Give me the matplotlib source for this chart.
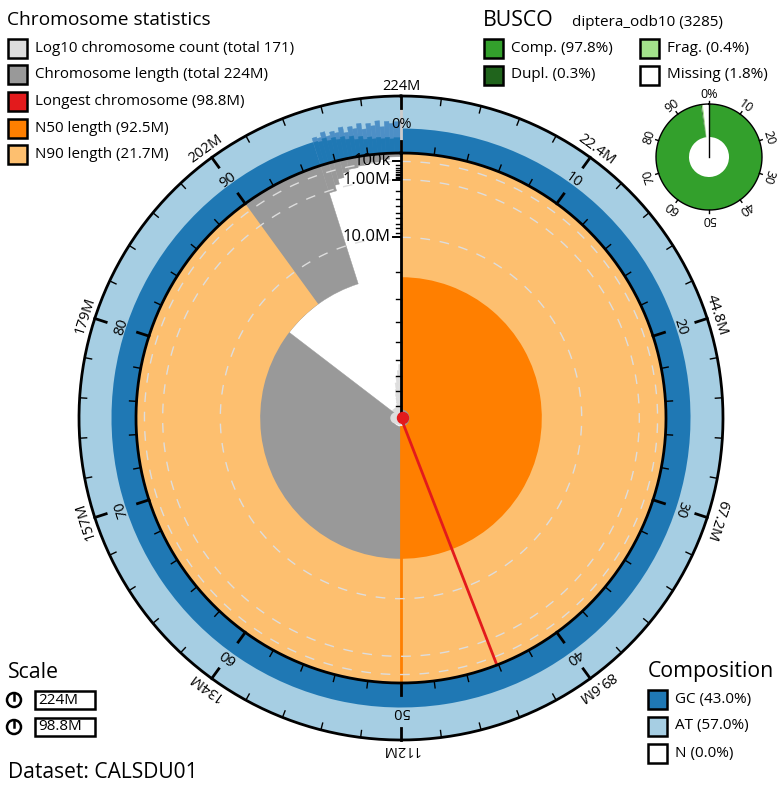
import numpy as np
import matplotlib
matplotlib.use("Agg")
import matplotlib.pyplot as plt
from matplotlib.patches import Rectangle, Circle

plt.rcParams['font.family'] = ['Open Sans', 'DejaVu Sans']

# ---------------- data ----------------
total_len_mb = 224.0
chrom_count = 171
longest_mb = 98.8
n50_mb = 92.5
n90_mb = 21.7
# largest chromosomes (Mb), then tail profile
big_chrom_mb = [98.8, 92.5, 21.7]
tail_end_pct = [95.6, 95.9, 96.3, 96.7, 97.3, 98.0, 98.7, 99.3, 100.0]
tail_len_mb = [1.17, 0.75, 0.45, 0.25, 0.17, 0.13, 0.09, 0.05, 0.02]
tail_count_end = [4, 5, 7, 10, 16, 30, 55, 95, 171]
# GC proportion: main chromosomes, then tail bins (solid mean and upper range)
gc_main = 0.43
gc_tail_pct = [95.1, 95.35, 95.6, 95.85, 96.1, 96.35, 96.6, 96.85, 97.1, 97.35, 97.6,
               97.85, 98.1, 98.35, 98.6, 98.85, 99.1, 99.35, 99.6, 100.0]
gc_tail_lo = [0.42, 0.40, 0.44, 0.38, 0.41, 0.36, 0.39, 0.33, 0.37, 0.30, 0.34, 0.28,
              0.31, 0.27, 0.29, 0.26, 0.28, 0.25, 0.27]
gc_tail_hi = [0.50, 0.47, 0.55, 0.46, 0.52, 0.48, 0.56, 0.45, 0.54, 0.49, 0.57, 0.46,
              0.55, 0.50, 0.58, 0.47, 0.56, 0.52, 0.55]

busco_labels = ['Comp. (97.8%)', 'Dupl. (0.3%)', 'Frag. (0.4%)', 'Missing (1.8%)']
busco_pct = [97.5, 0.3, 0.4, 1.8]
busco_colors = ['#33a02c', '#20641c', '#a3e28b', '#ffffff']

outer_tick_labels = ['224M', '22.4M', '44.8M', '67.2M', '89.6M', '112M', '134M', '157M', '179M', '202M']
pct_tick_labels = ['0%', '10', '20', '30', '40', '50', '60', '70', '80', '90']
len_axis_ticks = [0.1, 1.0, 10.0]
len_axis_labels = ['100k', '1.00M', '10.0M']

# ---------------- geometry ----------------
W, H = 784, 790
cx, cy = 401, 418
R_in, R_out = 265, 322
FS_T, FS_L = 15.3, 11.0

def r_len(L):
    return R_in * (1 - np.sqrt(np.asarray(L) / longest_mb))

def th(p):
    return 2 * np.pi * np.asarray(p) / 100.0

fig = plt.figure(figsize=(W / 100, H / 100), dpi=100)
ax = fig.add_axes([(cx - R_out - 30) / W, (H - cy - R_out - 30) / H,
                   (2 * R_out + 60) / W, (2 * R_out + 60) / H], projection='polar')
ax.set_theta_zero_location('N')
ax.set_theta_direction(-1)
ax.set_ylim(0, R_out + 30)
ax.axis('off')

# segments (start pct, end pct, length)
cum = np.cumsum(big_chrom_mb) / total_len_mb * 100
seg_start = [0.0] + list(cum[:-1]) + [cum[-1]] + tail_end_pct[:-1]
seg_end = list(cum) + tail_end_pct
seg_len = big_chrom_mb + tail_len_mb
seg_count = [1, 2, 3] + tail_count_end

# count spiral (light grey)
for s, e, c in zip(seg_start, seg_end, seg_count):
    rc = 24 * np.log10(c)
    if rc > 0:
        ax.bar(th(s), rc, width=th(e - s), bottom=0, align='edge', color='#dddddd',
               ec='#dddddd', lw=0.3, zorder=1)

# chromosome length bars (grey, from rim inward)
for s, e, L in zip(seg_start, seg_end, seg_len):
    b = r_len(L)
    ax.bar(th(s), R_in - b, width=th(e - s), bottom=b, align='edge', color='#999999',
           ec='#999999', lw=0.3, zorder=2)

# N50 and N90 sectors
ax.bar(0, R_in - r_len(n50_mb), width=th(50), bottom=r_len(n50_mb), align='edge', color='#ff7f00', lw=0, zorder=3)
ax.bar(0, R_in - r_len(n90_mb), width=th(90), bottom=r_len(n90_mb), align='edge', color='#fdbf6f', lw=0, zorder=4)
ax.plot([th(50), th(50)], [r_len(n50_mb), R_in], color='#ff7f00', lw=2, zorder=5)

# dashed scale circles
tt = np.linspace(0, 2 * np.pi, 600)
for L in len_axis_ticks:
    ax.plot(tt, np.full_like(tt, r_len(L)), color='#dddddd', lw=1, ls=(0, (7, 7)), zorder=5)

# longest chromosome line
ax.plot([th(longest_mb / total_len_mb * 100)] * 2, [r_len(longest_mb), R_in], color='#e31a1c', lw=2, zorder=6)

# composition band
band = R_out - R_in
ax.bar(0, band, width=2 * np.pi, bottom=R_in, align='edge', color='#a6cee3', lw=0, zorder=3)
ax.bar(0, gc_main * band, width=th(gc_tail_pct[0]), bottom=R_in, align='edge', color='#1f78b4', lw=0, zorder=3)
for s, e, lo, hi in zip(gc_tail_pct[:-1], gc_tail_pct[1:], gc_tail_lo, gc_tail_hi):
    ax.bar(th(s), hi * band, width=th(e - s), bottom=R_in, align='edge', color='#4d8fc6',
           ec='#4d8fc6', lw=0.3, zorder=3)
for s, e, lo in zip(gc_tail_pct[:-1], gc_tail_pct[1:], gc_tail_lo):
    ax.bar(th(s), lo * band, width=th(e - s), bottom=R_in, align='edge', color='#1f78b4',
           ec='#1f78b4', lw=0.3, zorder=3)

# circles
ax.plot(tt, np.full_like(tt, R_in), color='black', lw=2, zorder=7)
ax.plot(tt, np.full_like(tt, R_out), color='black', lw=2, zorder=7)
ax.plot([0, 0], [R_in, R_out], color='#cccccc', lw=2, zorder=6)

# ticks
for i in range(50):
    a = th(i * 2)
    major = i % 5 == 0
    ax.plot([a, a], [R_in, R_in + (12 if major else 7)], color='black', lw=2 if major else 1, zorder=8)
    ax.plot([a, a], [R_out, R_out - (12 if major else 7)], color='black', lw=2 if major else 1, zorder=8)
for i in range(10):
    a = th(i * 10)
    d = np.degrees(a)
    ax.text(a, R_out + 10, outer_tick_labels[i], rotation=-d, rotation_mode='anchor',
            ha='center', va='center', fontsize=10.5, zorder=9)
    ax.text(a, R_in + 29, pct_tick_labels[i], rotation=-d, rotation_mode='anchor',
            ha='center', va='center', fontsize=10.5, zorder=9)

# overlay axes for pixel-space items
axp = fig.add_axes([0, 0, 1, 1])
axp.set_xlim(0, W)
axp.set_ylim(H, 0)
axp.axis('off')
axp.patch.set_alpha(0)

# vertical length axis
axp.plot([cx, cx], [cy, cy - R_in], color='black', lw=2, zorder=10)
for dec in [0.1, 1.0, 10.0]:
    for m in range(1, 10):
        L = dec * m
        if L > longest_mb:
            continue
        y = cy - r_len(L)
        axp.plot([cx - (8 if m == 1 else 5), cx], [y, y], color='black', lw=1.4 if m == 1 else 1, zorder=10)
for L, lab in zip(len_axis_ticks, len_axis_labels):
    axp.text(cx - 10, cy - r_len(L), lab, ha='right', va='center', fontsize=12, zorder=10)
axp.add_patch(Circle((cx - 5, cy), 5, color='#dddddd', zorder=10))
axp.add_patch(Circle((cx + 2, cy), 5.5, color='#e31a1c', zorder=11))

# legends
def box(x, y, c):
    axp.add_patch(Rectangle((x, y - 9.5), 19, 19, facecolor=c, edgecolor='black', lw=1.8, zorder=12))

axp.text(7, 20, 'Chromosome statistics', fontsize=13.8, ha='left', va='center')
cs_labels = ['Log10 chromosome count (total 171)', 'Chromosome length (total 224M)',
             'Longest chromosome (98.8M)', 'N50 length (92.5M)', 'N90 length (21.7M)']
cs_colors = ['#dddddd', '#999999', '#e31a1c', '#ff7f00', '#fdbf6f']
for i, (lab, c) in enumerate(zip(cs_labels, cs_colors)):
    y = 48 + i * 26.7
    box(8, y, c)
    axp.text(35, y, lab, fontsize=10.9, ha='left', va='center')

axp.text(483, 20, 'BUSCO', fontsize=FS_T, ha='left', va='center')
axp.text(572, 22, 'diptera_odb10 (3285)', fontsize=11, ha='left', va='center')
bx = [484, 484, 640, 640]
byy = [48, 75, 48, 75]
for lab, c, x, y in zip(busco_labels, busco_colors, bx, byy):
    box(x, y, c)
    axp.text(x + 27, y, lab, fontsize=FS_L, ha='left', va='center')

axp.text(648, 672, 'Composition', fontsize=FS_T, ha='left', va='center')
comp_labels = ['GC (43.0%)', 'AT (57.0%)', 'N (0.0%)']
comp_colors = ['#1f78b4', '#a6cee3', '#ffffff']
for i, (lab, c) in enumerate(zip(comp_labels, comp_colors)):
    y = 699 + i * 27
    box(648, y, c)
    axp.text(675, y, lab, fontsize=FS_L, ha='left', va='center')

axp.text(8, 672, 'Scale', fontsize=FS_T, ha='left', va='center')
for y, lab in zip([700, 727], ['224M', '98.8M']):
    axp.add_patch(Circle((14, y), 7, fill=False, edgecolor='black', lw=1.8, zorder=12))
    axp.plot([14, 14], [y, y - 7], color='black', lw=1.8, zorder=12)
    axp.add_patch(Rectangle((35, y - 9), 60, 18, fill=False, edgecolor='black', lw=1.8, zorder=12))
    axp.text(38, y, lab, fontsize=11, ha='left', va='center')

axp.text(8, 773, 'Dataset: CALSDU01', fontsize=15.1, ha='left', va='center')

# BUSCO donut
bcx, bcy, bR, br = 709, 157, 53, 20
axb = fig.add_axes([(bcx - bR - 20) / W, (H - bcy - bR - 20) / H, (2 * bR + 40) / W, (2 * bR + 40) / H], projection='polar')
axb.set_theta_zero_location('N')
axb.set_theta_direction(-1)
axb.set_ylim(0, bR + 20)
axb.axis('off')
start = 0
for p, c in zip(busco_pct, busco_colors):
    axb.bar(th(start), bR - br, width=th(p), bottom=br, align='edge', color=c, lw=0)
    start += p
axb.plot(tt, np.full_like(tt, bR), color='black', lw=1)
axb.plot([0, 0], [0, bR], color='black', lw=1)
busco_tick_labels = ['0%', '10', '20', '30', '40', '50', '60', '70', '80', '90']
for i in range(10):
    a = th(i * 10)
    axb.plot([a, a], [bR, bR + 3], color='black', lw=1)
    axb.text(a, bR + 10, busco_tick_labels[i], rotation=-np.degrees(a), rotation_mode='anchor',
             ha='center', va='center', fontsize=9)

fig.savefig('out.png', dpi=100)
